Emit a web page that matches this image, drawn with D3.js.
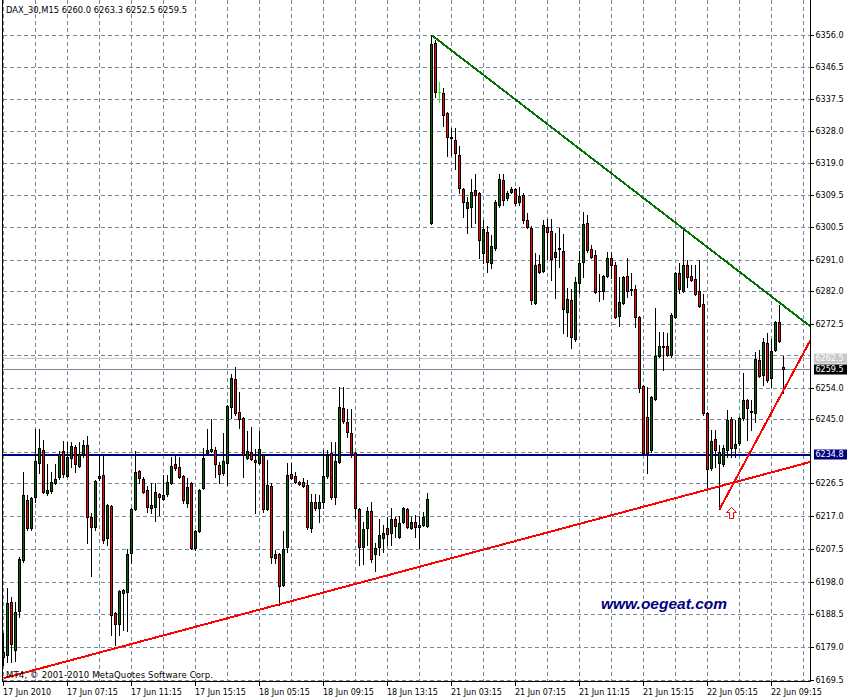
<!DOCTYPE html>
<html><head><meta charset="utf-8">
<script src="https://cdn.jsdelivr.net/npm/d3@7"></script>
<style>body{margin:0;background:#fff}svg{display:block}</style>
</head><body><svg id="c" width="850" height="700"></svg>
<script>
// ---------- DATA (DAX_30, M15) ----------
const open = [6176.4,6176.9,6192.2,6178.4,6189.6,6204.4,6221.7,6213.6,6222.6,6232.4,
6236.1,6223.7,6224.3,6226.6,6228.3,6235.9,6228.6,6233.8,6237.0,6231.5,
6235.0,6237.6,6216.8,6213.9,6228.1,6228.9,6210.7,6220.0,6189.1,6185.9,
6194.8,6195.1,6206.4,6219.1,6230.1,6227.8,6224.6,6219.4,6219.7,6223.4,
6222.0,6223.4,6226.6,6232.1,6231.2,6228.6,6220.8,6226.6,6207.8,6212.7,
6225.2,6235.3,6235.9,6236.1,6231.8,6229.5,6232.4,6248.6,6256.6,6247.1,
6245.4,6233.8,6235.6,6233.3,6232.4,6234.7,6219.1,6225.7,6205.0,6206.1,
6197.2,6208.1,6229.2,6228.6,6226.9,6226.9,6226.0,6213.6,6221.1,6219.4,
6221.1,6228.6,6235.3,6222.6,6232.7,6248.3,6244.2,6241.1,6235.3,6219.1,
6208.1,6213.6,6218.5,6206.1,6208.1,6210.7,6213.6,6212.2,6216.2,6211.0,
6215.4,6219.1,6213.6,6215.4,6213.9,6214.5,6214.2,6301.7,6353.7,6339.5,
6339.2,6333.5,6326.5,6325.7,6321.3,6311.5,6306.0,6306.3,6311.2,6310.4,
6293.0,6299.1,6290.2,6294.5,6306.9,6314.1,6308.9,6310.7,6311.5,6307.8,
6309.8,6302.6,6300.3,6278.6,6289.9,6287.8,6300.5,6299.4,6291.9,6294.2,
6293.6,6276.0,6279.5,6268.2,6284.4,6290.4,6301.7,6294.2,6292.5,6282.1,
6282.1,6286.4,6291.6,6289.6,6274.8,6278.6,6286.4,6282.6,6282.6,6274.6,
6254.6,6245.7,6236.1,6250.9,6263.3,6265.9,6266.2,6263.6,6274.6,6287.3,
6282.1,6289.6,6286.4,6285.5,6282.1,6278.3,6246.8,6230.9,6239.3,6232.4,
6232.1,6236.1,6245.1,6236.7,6238.2,6245.4,6250.6,6247.4,6246.8,6262.1,
6257.8,6267.0,6256.9,6265.0,6273.1,6260.0];
const high = [6183.3,6196.3,6193.7,6192.2,6205.2,6229.8,6223.1,6222.6,6242.2,6242.2,
6239.0,6232.1,6229.8,6232.1,6235.9,6238.7,6238.5,6238.5,6237.6,6238.5,
6239.0,6240.2,6218.0,6227.5,6234.7,6235.0,6220.5,6220.3,6189.4,6195.7,
6196.0,6207.5,6219.4,6235.9,6230.4,6228.3,6225.7,6226.6,6226.6,6223.7,
6228.9,6228.9,6234.1,6234.7,6234.1,6228.9,6228.1,6226.9,6213.0,6224.9,
6236.7,6242.2,6245.1,6237.0,6232.7,6241.1,6249.1,6258.1,6260.1,6252.9,
6245.7,6241.6,6242.8,6236.4,6241.6,6235.0,6233.3,6226.6,6207.3,6206.4,
6212.7,6232.4,6232.4,6229.8,6227.2,6228.1,6227.5,6223.4,6223.4,6223.1,
6236.1,6236.1,6238.5,6238.5,6254.3,6254.3,6248.0,6248.0,6235.6,6219.4,
6215.4,6219.7,6221.1,6209.3,6216.2,6214.5,6216.8,6219.4,6216.8,6217.1,
6219.7,6219.4,6216.8,6217.4,6217.1,6218.2,6223.7,6356.0,6354.6,6342.4,
6340.7,6333.8,6329.1,6329.1,6323.9,6311.8,6309.2,6314.4,6315.9,6310.7,
6302.6,6300.8,6298.2,6308.3,6315.9,6315.9,6310.9,6312.1,6311.8,6312.1,
6310.4,6304.6,6300.8,6293.0,6292.5,6302.6,6302.9,6302.9,6298.8,6300.3,
6298.5,6282.9,6282.6,6286.1,6293.6,6304.9,6304.0,6295.3,6293.9,6287.0,
6286.7,6293.3,6293.3,6290.4,6286.1,6286.4,6291.6,6287.3,6283.8,6274.8,
6254.9,6254.3,6251.7,6277.2,6270.2,6270.2,6269.9,6275.7,6287.5,6290.2,
6300.0,6291.0,6289.6,6289.6,6291.0,6281.2,6247.1,6241.9,6241.9,6237.6,
6237.6,6247.7,6245.7,6244.8,6245.7,6258.4,6250.9,6250.6,6264.4,6265.0,
6268.5,6269.9,6268.2,6273.4,6278.0,6263.3];
const low = [6174.0,6174.9,6174.9,6175.2,6187.9,6203.8,6213.0,6213.0,6221.1,6229.5,
6223.7,6223.1,6223.7,6226.3,6227.8,6228.3,6228.3,6231.2,6229.8,6231.3,
6234.1,6209.3,6199.8,6213.0,6227.5,6209.3,6208.7,6182.7,6179.8,6182.7,
6184.2,6183.9,6203.5,6218.8,6226.6,6223.7,6218.2,6218.0,6215.6,6217.4,
6221.7,6222.9,6226.3,6230.4,6228.1,6220.8,6219.7,6207.5,6207.3,6212.5,
6224.9,6235.0,6235.6,6228.3,6226.6,6228.9,6226.0,6245.4,6246.3,6242.5,
6228.3,6233.5,6233.3,6218.0,6232.1,6218.2,6218.8,6203.5,6203.5,6191.4,
6196.9,6206.7,6227.8,6226.6,6226.0,6225.5,6213.3,6212.5,6218.8,6215.4,
6219.4,6228.1,6222.0,6220.5,6232.4,6243.9,6239.9,6234.1,6216.5,6202.9,
6203.2,6208.7,6203.8,6201.2,6205.8,6206.7,6208.7,6208.7,6211.0,6210.7,
6215.1,6213.6,6213.3,6211.0,6207.8,6214.2,6213.9,6301.5,6338.1,6336.4,
6329.7,6321.1,6321.3,6317.3,6310.4,6303.4,6298.8,6300.5,6301.7,6291.6,
6290.2,6287.5,6288.7,6293.9,6306.3,6306.9,6308.3,6310.4,6306.9,6306.9,
6301.7,6300.3,6278.3,6278.3,6287.3,6287.5,6291.3,6285.2,6280.0,6289.0,
6269.9,6269.1,6265.6,6267.6,6281.5,6286.1,6293.3,6291.6,6281.5,6279.2,
6279.8,6286.1,6285.8,6274.3,6272.0,6278.3,6280.3,6280.9,6271.7,6252.9,
6234.7,6229.5,6235.6,6250.6,6263.0,6259.2,6263.3,6263.0,6274.3,6281.5,
6281.8,6283.2,6285.0,6280.9,6277.4,6246.3,6225.5,6230.4,6231.2,6219.1,
6231.5,6234.1,6234.1,6234.1,6237.6,6244.8,6239.0,6241.9,6244.2,6257.2,
6254.9,6255.8,6254.3,6264.7,6267.3,6252.5];
const close = [6177.8,6192.0,6180.1,6189.4,6204.7,6223.1,6213.6,6222.3,6233.0,6236.7,
6224.0,6224.6,6226.9,6227.8,6235.0,6229.2,6234.1,6237.3,6232.1,6235.0,
6237.6,6216.8,6213.9,6227.2,6228.6,6210.2,6220.3,6188.5,6185.9,6195.4,
6195.7,6206.1,6219.1,6229.8,6228.1,6224.0,6219.7,6220.3,6224.0,6222.6,
6223.1,6226.9,6231.5,6230.9,6228.3,6221.7,6225.5,6207.8,6212.7,6224.6,
6233.8,6236.1,6236.4,6232.1,6229.2,6233.0,6248.9,6256.9,6246.8,6245.1,
6234.7,6235.9,6233.5,6232.7,6236.4,6219.1,6226.0,6205.2,6206.1,6196.9,
6207.5,6228.9,6228.1,6226.9,6226.3,6225.7,6213.9,6221.1,6219.4,6221.1,
6228.6,6234.7,6222.6,6233.0,6248.6,6244.5,6241.3,6235.0,6219.4,6208.1,
6213.3,6218.5,6204.7,6207.8,6211.6,6212.2,6211.9,6216.2,6214.2,6215.1,
6219.4,6213.9,6215.4,6213.9,6214.5,6216.8,6222.0,6353.4,6339.5,6339.5,
6332.9,6326.5,6326.3,6321.9,6311.8,6307.8,6307.8,6310.7,6309.8,6296.8,
6300.0,6290.4,6295.1,6307.8,6314.4,6308.3,6310.4,6311.5,6307.5,6309.5,
6302.6,6300.5,6279.5,6289.6,6287.5,6301.1,6299.1,6291.3,6293.3,6294.5,
6276.9,6279.8,6268.8,6284.7,6290.2,6301.4,6293.9,6291.9,6281.8,6282.0,
6286.4,6291.6,6289.6,6274.6,6278.9,6286.1,6282.1,6282.4,6274.6,6254.0,
6235.3,6235.3,6251.4,6263.3,6266.2,6266.2,6263.6,6275.1,6287.3,6282.6,
6289.6,6286.1,6285.2,6281.2,6277.7,6246.8,6230.7,6238.7,6236.1,6235.6,
6236.7,6244.8,6236.7,6237.9,6245.4,6250.6,6248.3,6247.1,6262.4,6257.5,
6267.3,6256.4,6264.7,6273.1,6267.6,6259.5];

const xTickIndex = [0,16,32,48,64,80,96,112,128,144,160,176,192];
const xTickLabels = ["17 Jun 2010","17 Jun 07:15","17 Jun 11:15","17 Jun 15:15","18 Jun 05:15",
  "18 Jun 09:15","18 Jun 13:15","21 Jun 03:15","21 Jun 07:15","21 Jun 11:15","21 Jun 15:15",
  "22 Jun 05:15","22 Jun 09:15"];
// grid levels (two of them sit under the price boxes and show no label)
const yGridValues = [6356.0,6346.5,6337.5,6328.0,6319.0,6309.5,6300.5,6291.0,6282.0,6272.5,
  6263.5,6254.0,6245.0,6235.5,6226.5,6217.0,6207.5,6198.0,6188.5,6179.0,6169.5];
const yTickLabels = [6356.0,6346.5,6337.5,6328.0,6319.0,6309.5,6300.5,6291.0,6282.0,6272.5,
  6254.0,6245.0,6226.5,6217.0,6207.5,6198.0,6188.5,6179.0,6169.5];
const titleText = "DAX_30,M15  6260.0 6263.3 6252.5 6259.5";
const copyrightText = "MT4, \u00a9 2001-2010 MetaQuotes Software Corp.";
const watermarkText = "www.oegeat.com";
const hLineLevel = 6234.8;
const bidLevel = 6259.5;
const askLevel = 6262.5;
const greenTrend = [[107, 6356.0], [195, 6277.8]];
const redTrendLong = [[0, 6170.2], [195, 6230.6]];
const redTrendShort = [[179, 6219.0], [195, 6253.4]];
const arrowPoint = [182, 6219.6];

// ---------- CHART ----------
const svg = d3.select("#c");
const L = 2.5, R = 810.5, B = 681.5;
const x = d3.scaleLinear().domain([0, 200]).range([3.5, 803.5]);
const y = d3.scaleLinear().domain([6169.5, 6356.0]).range([680.7, 35]);
const px = v => Math.round(v - 0.5) + 0.5;
const FONT = "DejaVu Sans";
const GRID = "#778899";

svg.append("rect").attr("width", 850).attr("height", 700).attr("fill", "#fff");
svg.append("defs").append("clipPath").attr("id", "clip")
  .append("rect").attr("x", L).attr("y", 0).attr("width", R - L).attr("height", B);

// grid
const grid = svg.append("g").attr("shape-rendering", "crispEdges");
d3.range(0, 201, 8).forEach(i => {
  grid.append("line").attr("x1", px(x(i))).attr("x2", px(x(i))).attr("y1", 0).attr("y2", B)
    .attr("stroke", GRID).attr("stroke-dasharray", "4,3");
});
yGridValues.forEach(v => {
  grid.append("line").attr("x1", L).attr("x2", R).attr("y1", px(y(v))).attr("y2", px(y(v)))
    .attr("stroke", GRID).attr("stroke-dasharray", "4,3");
});

// price lines
const plines = svg.append("g").attr("shape-rendering", "crispEdges");
plines.append("line").attr("x1", L).attr("x2", R).attr("y1", px(y(askLevel))).attr("y2", px(y(askLevel)))
  .attr("stroke", "#c8c8c8");
plines.append("line").attr("x1", L).attr("x2", R).attr("y1", px(y(bidLevel))).attr("y2", px(y(bidLevel)))
  .attr("stroke", "#778899");
plines.append("line").attr("x1", L).attr("x2", R).attr("y1", Math.round(y(hLineLevel))).attr("y2", Math.round(y(hLineLevel)))
  .attr("stroke", "#000080").attr("stroke-width", 2);

// candles
const cg = svg.append("g").attr("clip-path", "url(#clip)").attr("shape-rendering", "crispEdges");
open.forEach((o, i) => {
  const c = close[i];
  const cx = px(x(i));
  if (o === c) {
    cg.append("line").attr("x1", cx).attr("x2", cx).attr("y1", y(high[i])).attr("y2", y(low[i])).attr("stroke", "#00ff00");
    cg.append("line").attr("x1", cx - 1.5).attr("x2", cx + 1.5).attr("y1", px(y(o))).attr("y2", px(y(o))).attr("stroke", "#00ff00");
    return;
  }
  cg.append("line").attr("x1", cx).attr("x2", cx).attr("y1", Math.round(y(high[i]))).attr("y2", Math.round(y(low[i])) + 1).attr("stroke", "#000");
  const top = Math.round(y(Math.max(o, c))), bot = Math.round(y(Math.min(o, c)));
  cg.append("rect").attr("x", cx - 1.5).attr("y", top).attr("width", 3).attr("height", Math.max(bot - top + 1, 1)).attr("fill", "#000");
  if (bot - top >= 2) {
    cg.append("rect").attr("x", cx - 0.5).attr("y", top + 1).attr("width", 1).attr("height", bot - top - 1)
      .attr("fill", c > o ? "#006400" : "#ff0000");
  }
});

// trendlines (rays to the right edge)
const lineGen = d3.line().x(d => x(d[0])).y(d => y(d[1]));
function ray(p) {
  const [a, b] = p;
  const slope = (b[1] - a[1]) / (b[0] - a[0]);
  const iEnd = x.invert(R + 2);
  return [a, [iEnd, a[1] + slope * (iEnd - a[0])]];
}
const tl = svg.append("g").attr("clip-path", "url(#clip)").attr("fill", "none").attr("shape-rendering", "crispEdges");
tl.append("path").attr("d", lineGen(ray(greenTrend))).attr("stroke", "#007000").attr("stroke-width", 2);
tl.append("path").attr("d", lineGen(ray(redTrendLong))).attr("stroke", "#ff0000").attr("stroke-width", 2);
tl.append("path").attr("d", lineGen(ray(redTrendShort))).attr("stroke", "#ff0000").attr("stroke-width", 2);

// arrow
const ax = px(x(arrowPoint[0])), ay = Math.round(y(arrowPoint[1])) + 0.5;
svg.append("path")
  .attr("d", `M${ax},${ay} L${ax + 5},${ay + 5} L${ax + 2},${ay + 5} L${ax + 2},${ay + 11} L${ax - 2},${ay + 11} L${ax - 2},${ay + 5} L${ax - 5},${ay + 5} Z`)
  .attr("fill", "#fff").attr("stroke", "#ff0000").attr("stroke-width", 1);

// frame
const fr = svg.append("g").attr("stroke", "#000").attr("shape-rendering", "crispEdges");
fr.append("line").attr("x1", L).attr("x2", L).attr("y1", 0).attr("y2", B);
fr.append("line").attr("x1", R).attr("x2", R).attr("y1", 0).attr("y2", B);
fr.append("line").attr("x1", L).attr("x2", R).attr("y1", B).attr("y2", B);

// axes
const yAxis = d3.axisRight(y).tickValues(yTickLabels).tickFormat(d3.format(".1f")).tickSize(3).tickPadding(2);
const ya = svg.append("g").attr("transform", `translate(${R},0)`).call(yAxis);
ya.select(".domain").remove();
ya.selectAll(".tick").attr("transform", d => `translate(0,${px(y(d))})`);
ya.selectAll(".tick line").attr("stroke", "#000").attr("shape-rendering", "crispEdges");
ya.selectAll(".tick text").attr("font-family", FONT).attr("font-size", 8).attr("fill", "#000").attr("dy", "0.36em");

const xAxis = d3.axisBottom(x).tickValues(xTickIndex).tickFormat((d, k) => xTickLabels[k]).tickSize(4).tickPadding(4);
const xa = svg.append("g").attr("transform", `translate(0,${B})`).call(xAxis);
xa.select(".domain").remove();
xa.selectAll(".tick").attr("transform", d => `translate(${px(x(d))},0)`);
xa.selectAll(".tick line").attr("stroke", "#000").attr("shape-rendering", "crispEdges");
xa.selectAll(".tick text").attr("font-family", FONT).attr("font-size", 8).attr("fill", "#000")
  .attr("text-anchor", "start").attr("x", -0.5);

// price label boxes
function priceBox(v, bg, fg) {
  const yy = px(y(v));
  svg.append("rect").attr("x", 814).attr("y", yy - 5).attr("width", 33).attr("height", 10).attr("fill", bg);
  svg.append("text").attr("x", 815.5).attr("y", yy).attr("dy", "0.36em").attr("font-family", FONT)
    .attr("font-size", 8).attr("fill", fg).text(d3.format(".1f")(v));
}
priceBox(askLevel, "#c8c8c8", "#fff");
priceBox(bidLevel, "#000", "#fff");
priceBox(hLineLevel, "#000080", "#fff");

// texts
svg.append("text").attr("x", 6).attr("y", 13).attr("font-family", FONT).attr("font-size", 8.3)
  .attr("textLength", 181).attr("fill", "#000").text(titleText);
svg.append("text").attr("x", 6).attr("y", 678).attr("font-family", FONT).attr("font-size", 8.5)
  .attr("textLength", 207).attr("fill", "#000").text(copyrightText);
svg.append("text").attr("x", 601).attr("y", 608.5).attr("font-family", "Liberation Sans")
  .attr("font-size", 15.5).attr("font-weight", "bold").attr("font-style", "italic")
  .attr("textLength", 126).attr("lengthAdjust", "spacingAndGlyphs").attr("fill", "#000080").text(watermarkText);
</script></body></html>
